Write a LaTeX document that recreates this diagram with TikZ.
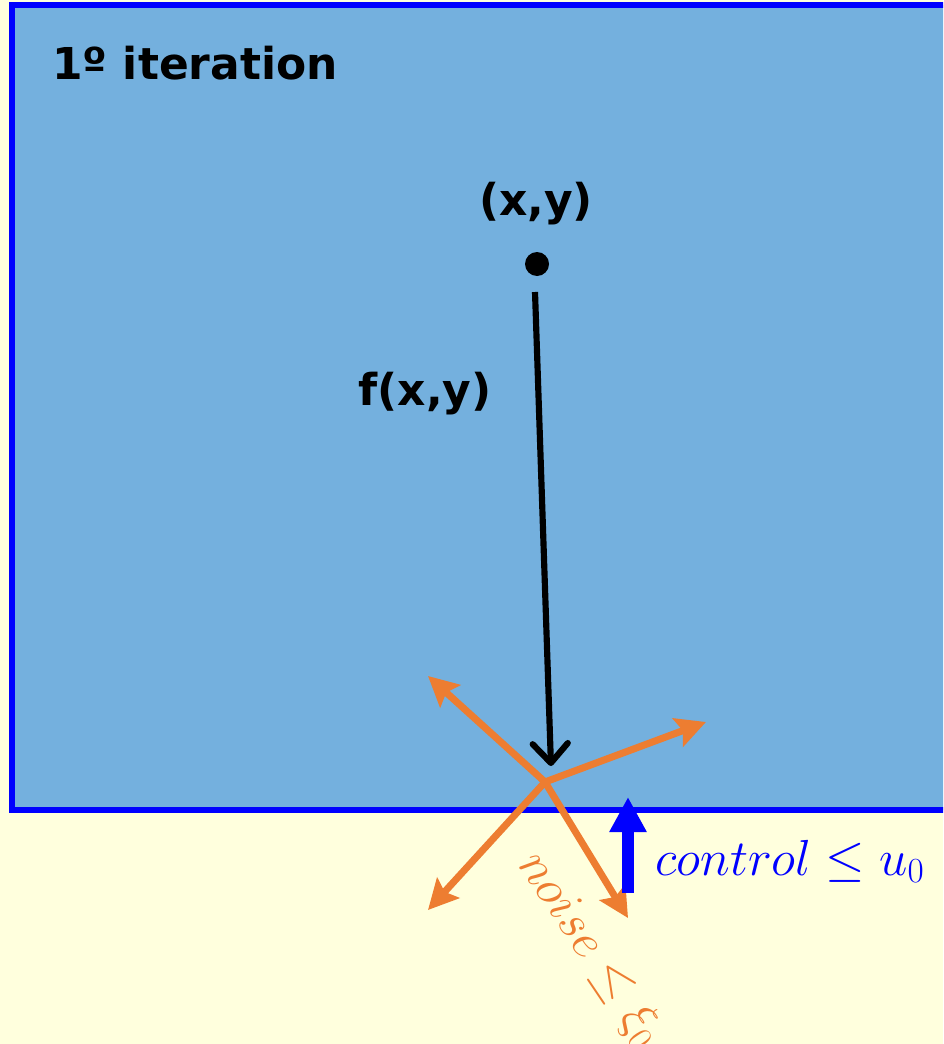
\documentclass[tikz,border=0pt]{standalone}
\usepackage{fontspec}
\setsansfont{DejaVu Sans}
\usetikzlibrary{arrows.meta}
\definecolor{paleyellow}{RGB}{255,255,221}
\definecolor{skyfill}{RGB}{116,176,222}
\definecolor{noiseorange}{RGB}{237,125,49}
\newcommand{\bigmath}[1]{\scalebox{1.16}{$#1$}}
\tikzset{
  label/.style={font=\sffamily\bfseries\fontsize{25}{29}\selectfont, inner sep=0pt},
  mathlabel/.style={inner sep=0pt, font=\fontsize{24}{28}\selectfont},
  noisearrow/.style={noiseorange, line width=4pt, -{Stealth[length=17pt,width=17pt,inset=3pt]}}
}
\begin{document}
\begin{tikzpicture}[x=0.02cm, y=-0.02cm]
  % page and region
  \useasboundingbox (0,0) rectangle (943,1044);
  \fill[paleyellow] (0,0) rectangle (943,1044);
  \begin{scope}
    \clip (0,0) rectangle (943,1044);
    \draw[blue, line width=3pt, fill=skyfill] (12,5) rectangle (960,810);
  \end{scope}

  % labels
  \node[label, anchor=base west] (iter) at (52,80) {1º iteration};
  \node[label, anchor=base] (xy) at (536,215) {(x,y)};
  \node[label, anchor=base] (fxy) at (425,405) {f(x,y)};

  % point and its image
  \fill (537,264) circle (12);
  \coordinate (start) at (535,292);
  \coordinate (hit) at (545,782);
  \draw[line width=3.5pt, -{Straight Barb[length=11pt,width=20pt,round]}] (start) -- (551,766);

  % noise directions
  \foreach \tip in {(428,676),(706,722),(428,910),(628,918)}
    \draw[noisearrow] (hit) -- \tip;

  % control
  \coordinate (cbot) at (628,893);
  \coordinate (ctop) at (628,797);
  \draw[blue, line width=6.5pt, -{Triangle[length=20pt,width=20pt]}] (cbot) -- (ctop);
  \node[mathlabel, blue, anchor=base west] (ctl) at (655,875) {\bigmath{control \leq u_0}};
  \begin{scope}
    \clip (0,0) rectangle (943,1044);
    \node[mathlabel, noiseorange, anchor=base west, rotate=-56] (nse) at (517,864) {\bigmath{noise \leq \xi_0}};
  \end{scope}
\end{tikzpicture}
\end{document}
